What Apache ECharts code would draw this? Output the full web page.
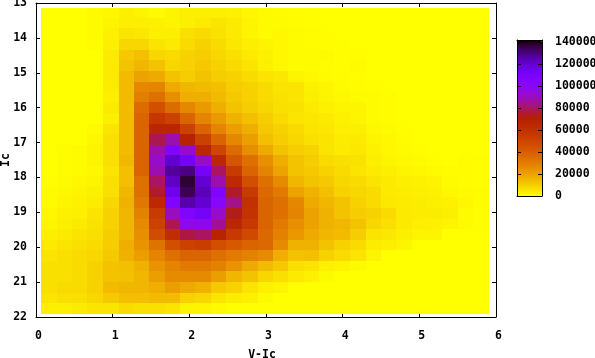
<!DOCTYPE html>
<html>
<head>
<meta charset="utf-8">
<style>html,body{margin:0;padding:0;background:#fff}#chart{width:595px;height:358px}</style>
<script src="https://cdn.jsdelivr.net/npm/echarts@6/dist/echarts.min.js"></script>
</head>
<body>
<div id="chart"></div>
<script>
// cell edges on both axes
var colorEdges = [0.07,0.27,0.47,0.67,0.87,1.08,1.28,1.48,1.68,1.88,2.08,2.28,2.48,2.69,2.89,3.09,3.29,3.49,3.69,3.89,4.09,4.30,4.50,4.70,4.90,5.10,5.30,5.50,5.70,5.91];
var magEdges = [13.13,13.43,13.73,14.04,14.34,14.64,14.94,15.25,15.55,15.85,16.15,16.46,16.76,17.06,17.36,17.67,17.97,18.27,18.57,18.88,19.18,19.48,19.78,20.09,20.39,20.69,20.99,21.30,21.60,21.90];

// counts in thousands, one row per Ic bin, top to bottom
var counts = [
  [0,0,0,1,1.5,3,2,1,2,3,3,3,2.5,1.5,.7,.5,.3,.2,0,0,0,0,0,0,0,0,0,0,0],
  [0,0,0,1,2,3,3,2.5,2,3,4,5,4,2,.7,.8,.5,.3,0,0,0,0,0,0,0,0,0,0,0],
  [0,0,0,1,2.5,5,4.5,3,3,6,7,5.5,4,2,1,1.5,.7,.5,.3,0,0,0,0,0,0,0,0,0,0],
  [0,0,0,.5,3,8,8,5,4,7,9,7,4.5,3,2,1.5,.7,.5,.3,.2,0,0,0,0,0,0,0,0,0],
  [0,0,0,0,4,11,13,8,7,9,10,8,6,4,2.5,1.5,1,.7,.7,.3,.3,0,0,0,0,0,0,0,0],
  [0,0,0,0,4,12,15,12,8,9,11,9,7,5,3,1.5,1,.7,.5,.3,.7,0,0,0,0,0,0,0,0],
  [0,0,0,0,4,14,20,18,12,10,12,10,9,7,5,4.5,2,1.5,1,.5,.3,0,0,0,0,0,0,0,0],
  [0,0,0,0,3.5,14,27,28,18,15,14,13,10,9,7,5,5,2.5,2,1,.5,.3,0,0,0,0,0,0,0],
  [0,0,0,0,3,14,30,34,25,17,17,14,11,9,7,5.5,5,3,2,1.5,1,.7,.5,0,0,0,0,0,0],
  [0,0,0,0,4,14,36,46,36,27,22,17,12,10,8,6,5.5,4,2.5,2,2,1,.5,0,0,0,0,0,0],
  [0,0,0,0,3,14,38,57,52,38,28,22,16,13,10,7,5,4.5,4,2.5,2,1,.5,0,0,0,0,0,0],
  [0,0,0,1,5,14,38,67,67,52,38,28,21,17,11,9,7,5,4.5,3,3,1.5,.7,.4,0,0,0,0,0],
  [0,0,0,1.5,6,14,38,78,88,69,52,38,27,21,13,10,8,6,5,3.5,4,2,1.5,.5,0,0,0,0,0],
  [0,.5,1,2,6,14,38,87,106,92,66,50,36,25,18,12,10,8.5,5,4,4.5,2.5,1.5,1,.4,0,0,0,0],
  [0,.5,1,2,6,15,38,92,121,112,92,66,43,34,25,17,12,10,7,6,5.5,3,2,1.5,.7,.3,0,.5,.2],
  [0,.5,.7,1.5,5,13,38,88,127,130,112,80,55,38,28,20,12,11,9,7,5,4,3,2,1.5,1,.5,.5,.1],
  [.3,1,1.5,2,6,13,34,80,122,137,120,88,64,46,34,26,15,12,11,8,7,5,4,3,2.5,2,.7,.5,.2],
  [.7,1.5,2,3,6,15,34,75,115,134,124,106,75,55,37,31,20,16,13,9,8,7,4,3.5,3,2.5,1.5,1,.5],
  [1,2,2.5,3.5,8,16,32,65,106,125,120,102,84,60,38,34,27,18,15,12,9,7,4.5,4,3.5,3,2.5,1.5,.5],
  [1.5,2.5,3,5,9,15,29,55,90,106,112,92,73,59,38,34,28,20,16,12,10,9,7,4,3.5,3.5,3,1,.3],
  [2,3,4,5.5,9,15,26,52,78,98,98,85,66,56,38,31,25,20,16,15,12,8,6,4,3,2.5,2,.7,.3],
  [3,4,5,6,10,15,25,47,62,77,80,68,56,48,37,29,23,18,15,14,10,5,4.5,3,2,2,0,0,0],
  [4,5,6,7,10,17,24,33,46,52,54,46,42,38,37,26,16,16,12,9,7,3.5,3,2,0,0,0,0,0],
  [5,6,7,8,11,16,21,28,34,38,38,34,31,29,26,17,12,13,9,7,5,2,0,0,0,0,0,0,0],
  [6,6,7,9,12,13,16,24,28,31,31,29,24,18,14,11,6,5,2.5,2,1,0,0,0,0,0,0,0,0],
  [6,6,7,9,12,12.5,15,21,26,26,26,21,15,12,8,6,4,2.5,1,0,0,0,0,0,0,0,0,0,0],
  [6,7,7,9,14,15,15,17,21,18,16,11,9,5,2.5,2,0,0,0,0,0,0,0,0,0,0,0,0,0],
  [5,6,6,8,11,13,13,14,14,9,8,5,3.5,2.5,1,0,0,0,0,0,0,0,0,0,0,0,0,0,0],
  [3,3,4,5,5,7,6,6,5,2,2,1,0,0,0,0,0,0,0,0,0,0,0,0,0,0,0,0,0]
];

var colorMax = 142000;
var labelFont = { color: '#000', fontFamily: 'DejaVu Sans Mono', fontWeight: 'bold', fontSize: 11.5 };

// gnuplot rgbformulae 7,5,15 with the scale turned round
function paletteColor(v) {
  var g = 1 - v;
  var r = Math.sqrt(g), gr = g * g * g, b = Math.max(0, Math.sin(2 * Math.PI * g));
  return 'rgb(' + Math.round(r * 255) + ',' + Math.round(gr * 255) + ',' + Math.round(b * 255) + ')';
}
var paletteStops = [];
for (var s = 0; s <= 60; s++) paletteStops.push(paletteColor(s / 60));

var cells = [];
counts.forEach(function (row, r) {
  row.forEach(function (n, c) {
    cells.push([c, r, n * 1000]);
  });
});

function drawCell(params, api) {
  var c = api.value(0), r = api.value(1);
  var p0 = api.coord([colorEdges[c], magEdges[r]]);
  var p1 = api.coord([colorEdges[c + 1], magEdges[r + 1]]);
  var x0 = Math.round(p0[0]), y0 = Math.round(p0[1]);
  return {
    type: 'rect',
    shape: { x: x0, y: y0, width: Math.round(p1[0]) - x0, height: Math.round(p1[1]) - y0 },
    style: { fill: api.visual('color') }
  };
}

var myChart = echarts.init(document.getElementById('chart'), null, { renderer: 'canvas' });

var axisLine = { show: true, onZero: false, lineStyle: { color: '#000', width: 1 } };
var inTick = { show: true, inside: true, length: 4, lineStyle: { color: '#000', width: 1 } };

var option = {
  animation: false,
  backgroundColor: '#fff',
  grid: [
    { left: 36, top: 3, width: 460, height: 314, containLabel: false, outerBoundsMode: 'none', z: 3 },
    { left: 517, top: 40, width: 25, height: 156, containLabel: false, outerBoundsMode: 'none', z: 6 }
  ],
  xAxis: [
    {
      type: 'value', gridIndex: 0, min: 0, max: 6, interval: 1, position: 'bottom',
      name: 'V-Ic', nameLocation: 'middle', nameGap: 32, nameMoveOverlap: false,
      nameTextStyle: Object.assign({ padding: [0, 8, 0, 0] }, labelFont),
      axisLine: axisLine, axisTick: inTick, splitLine: { show: false },
      axisLabel: Object.assign({ margin: 13, padding: [0, 0, 0, 5] }, labelFont)
    },
    {
      type: 'value', gridIndex: 0, min: 0, max: 6, interval: 1, position: 'top',
      axisLine: axisLine, axisTick: inTick, splitLine: { show: false }, axisLabel: { show: false }
    },
    {
      type: 'value', gridIndex: 1, min: 0, max: 1, position: 'bottom', z: 6,
      axisLine: axisLine, axisTick: { show: false }, splitLine: { show: false }, axisLabel: { show: false }
    },
    {
      type: 'value', gridIndex: 1, min: 0, max: 1, position: 'top', z: 6,
      axisLine: axisLine, axisTick: { show: false }, splitLine: { show: false }, axisLabel: { show: false }
    }
  ],
  yAxis: [
    {
      type: 'value', gridIndex: 0, min: 13, max: 22, interval: 1, inverse: true, position: 'left',
      name: 'Ic', nameLocation: 'middle', nameGap: 24, nameRotate: 90, nameMoveOverlap: false,
      nameTextStyle: labelFont,
      axisLine: axisLine, axisTick: inTick, splitLine: { show: false },
      axisLabel: Object.assign({ margin: 9, padding: [2, 0, 0, 0] }, labelFont)
    },
    {
      type: 'value', gridIndex: 0, min: 13, max: 22, interval: 1, inverse: true, position: 'right',
      axisLine: axisLine, axisTick: inTick, splitLine: { show: false }, axisLabel: { show: false }
    },
    {
      type: 'value', gridIndex: 1, min: 0, max: colorMax, interval: 20000, position: 'left', z: 6,
      axisLine: axisLine, axisTick: inTick, splitLine: { show: false }, axisLabel: { show: false }
    },
    {
      type: 'value', gridIndex: 1, min: 0, max: colorMax, interval: 20000, position: 'right', z: 6,
      axisLine: axisLine, axisTick: inTick, splitLine: { show: false },
      axisLabel: Object.assign({ margin: 13, padding: [2, 0, 0, 0], showMaxLabel: false, align: 'left', formatter: function (v) { return String(v); } }, labelFont)
    }
  ],
  visualMap: {
    type: 'continuous',
    seriesIndex: 0,
    dimension: 2,
    min: 0,
    max: colorMax,
    left: 517,
    top: 40,
    itemWidth: 25,
    itemHeight: 156,
    padding: 0,
    calculable: false,
    realtime: false,
    hoverLink: false,
    text: null,
    showLabel: false,
    z: 2,
    inRange: { color: paletteStops }
  },
  series: [
    {
      type: 'custom',
      xAxisIndex: 0,
      yAxisIndex: 0,
      renderItem: drawCell,
      silent: true,
      encode: { x: 0, y: 1 },
      data: cells
    }
  ]
};

myChart.setOption(option);
</script>
</body>
</html>
